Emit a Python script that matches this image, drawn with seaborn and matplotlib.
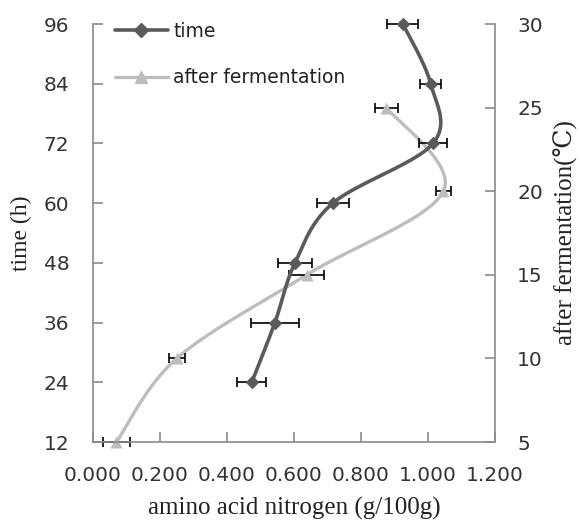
import numpy as np
import pandas as pd
import matplotlib
matplotlib.use("Agg")
import matplotlib.pyplot as plt
import seaborn as sns
from matplotlib.lines import Line2D

# ---- data ----
time_h = [24, 36, 48, 60, 72, 84, 96]
time_amino = [0.474, 0.543, 0.603, 0.716, 1.015, 1.008, 0.925]
time_err = [0.043, 0.071, 0.050, 0.048, 0.042, 0.031, 0.046]

ferm_temp = [5, 10, 15, 20, 25]
ferm_amino = [0.070, 0.250, 0.638, 1.046, 0.876]
ferm_err = [0.040, 0.024, 0.052, 0.023, 0.035]

x_ticks = [0.0, 0.2, 0.4, 0.6, 0.8, 1.0, 1.2]
x_tick_labels = ["0.000", "0.200", "0.400", "0.600", "0.800", "1.000", "1.200"]
left_ticks = [12, 24, 36, 48, 60, 72, 84, 96]
right_ticks = [5, 10, 15, 20, 25, 30]

series_names = ["time", "after fermentation"]

DARK = "#5a5a5a"
LIGHT = "#bdbdbd"
SPINE = "#8a8a8a"
TXT = "#333333"
SERIF = ["Liberation Serif", "DejaVu Serif"]

sns.set_theme(style="white")
plt.rcParams["font.family"] = ["DejaVu Sans"]

W, H = 580, 525
fig = plt.figure(figsize=(W / 100, H / 100), dpi=100)
L, R, T, B = 93, 495, 24, 442
ax = fig.add_axes([L / W, 1 - B / H, (R - L) / W, (B - T) / H])
ax2 = ax.twinx()
xlim = (0.0, 1.2)
ylim1 = (12, 96)
ylim2 = (5, 30)
ax.set_xlim(*xlim)
ax.set_ylim(*ylim1)
ax2.set_ylim(*ylim2)


def smooth_curve(xs, ys, xl, yl, w, h, n=40):
    """Excel-style smoothed line (Catmull-Rom Bezier) computed in pixel space."""
    u = (np.asarray(xs) - xl[0]) / (xl[1] - xl[0]) * w
    v = (np.asarray(ys) - yl[0]) / (yl[1] - yl[0]) * h
    P = np.column_stack([u, v])
    Pe = np.vstack([P[0], P, P[-1]])
    segs = []
    t = np.linspace(0, 1, n)[:, None]
    for i in range(len(P) - 1):
        p0, p1, p2, p3 = Pe[i], Pe[i + 1], Pe[i + 2], Pe[i + 3]
        c1 = p1 + (p2 - p0) / 6.0
        c2 = p2 - (p3 - p1) / 6.0
        seg = (1 - t) ** 3 * p1 + 3 * (1 - t) ** 2 * t * c1 + 3 * (1 - t) * t ** 2 * c2 + t ** 3 * p2
        segs.append(seg if i == 0 else seg[1:])
    S = np.vstack(segs)
    cx = S[:, 0] / w * (xl[1] - xl[0]) + xl[0]
    cy = S[:, 1] / h * (yl[1] - yl[0]) + yl[0]
    return pd.DataFrame({"x": cx, "y": cy})


pw, ph = R - L, B - T
curve_time = smooth_curve(time_amino, time_h, xlim, ylim1, pw, ph)
curve_ferm = smooth_curve(ferm_amino, ferm_temp, xlim, ylim2, pw, ph)

# after fermentation (right axis)
sns.lineplot(data=curve_ferm, x="x", y="y", sort=False, estimator=None,
             color=LIGHT, lw=2.4, ax=ax2, zorder=2, clip_on=False)
eb2 = ax2.errorbar(ferm_amino, ferm_temp, xerr=ferm_err, fmt="none", ecolor="black",
                   elinewidth=1.2, capsize=3.6, capthick=1.2, zorder=3)
sns.scatterplot(x=ferm_amino, y=ferm_temp, marker="^", s=75, color=LIGHT,
                edgecolor=LIGHT, linewidth=0, ax=ax2, zorder=4, clip_on=False)

# time (left axis), drawn above
sns.lineplot(data=curve_time, x="x", y="y", sort=False, estimator=None,
             color=DARK, lw=2.6, ax=ax, zorder=2, clip_on=False)
eb1 = ax.errorbar(time_amino, time_h, xerr=time_err, fmt="none", ecolor="black",
                  elinewidth=1.2, capsize=3.6, capthick=1.2, zorder=3)
sns.scatterplot(x=time_amino, y=time_h, marker="D", s=48, color=DARK,
                edgecolor=DARK, linewidth=0, ax=ax, zorder=4, clip_on=False)

for eb in (eb1, eb2):
    for art in eb.get_children():
        art.set_clip_on(False)

ax.set_zorder(ax2.get_zorder() + 1)
ax.patch.set_visible(False)

# axes styling
for a in (ax, ax2):
    for s in a.spines.values():
        s.set_visible(False)
ax.spines["left"].set_visible(True)
ax.spines["bottom"].set_visible(True)
ax2.spines["right"].set_visible(True)
for a, side in ((ax, "left"), (ax, "bottom"), (ax2, "right")):
    a.spines[side].set_color(SPINE)
    a.spines[side].set_linewidth(1.2)

ax.set_xticks(x_ticks)
ax.set_xticklabels(x_tick_labels)
ax.set_yticks(left_ticks)
ax2.set_yticks(right_ticks)
for a in (ax, ax2):
    a.tick_params(direction="in", length=7, width=1.2, color=SPINE,
                  labelsize=14.5, labelcolor=TXT, pad=16)
ax.tick_params(axis="y", left=True, right=False, pad=17)
ax.tick_params(axis="x", bottom=True, top=False, pad=17)
ax2.tick_params(axis="y", right=True, left=False)
ax.grid(False)
ax2.grid(False)

ax.set_xlabel("amino acid nitrogen (g/100g)", family=SERIF, fontsize=18,
              color="#222222", labelpad=9)
ax.set_ylabel("time (h)", family=SERIF, fontsize=17, color="#222222", labelpad=8)
ax2.set_ylabel("after fermentation(℃)", family=SERIF, fontsize=18,
               color="#222222", labelpad=8)

handles = [
    Line2D([0], [0], color=DARK, lw=2.6, marker="D", markersize=7),
    Line2D([0], [0], color=LIGHT, lw=2.4, marker="^", markersize=8.5),
]
leg = ax.legend(handles, series_names, loc="upper left",
                bbox_to_anchor=(115 / W, 1 - 22 / H), bbox_transform=fig.transFigure,
                frameon=False, fontsize=13.5, handlelength=2.8, handletextpad=0.3,
                labelspacing=1.45, borderpad=0, borderaxespad=0)
for t in leg.get_texts():
    t.set_color("#222222")

fig.savefig("out.png", dpi=100)
